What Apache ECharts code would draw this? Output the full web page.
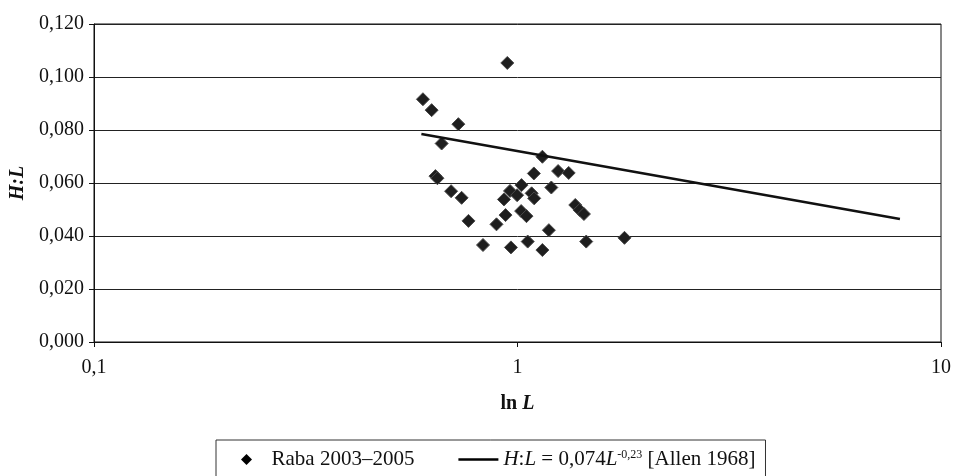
<!DOCTYPE html>
<html>
<head>
<meta charset="utf-8">
<script src="https://cdn.jsdelivr.net/npm/echarts@6/dist/echarts.min.js"></script>
<style>html,body{margin:0;padding:0;background:#fff;}#c{width:954px;height:476px;}</style>
</head>
<body>
<div id="c"></div>
<script>
// Raba 2003–2005 observations: L and H:L
var rabaL = [0.598,0.627,0.725,0.662,0.640,0.647,0.697,0.738,0.766,0.829,0.892,0.937,0.929,0.960,0.998,1.022,0.965,1.057,1.145,1.093,1.247,1.321,1.202,1.080,1.095,1.020,1.050,1.369,1.402,1.435,1.186,1.145,1.453,1.789,0.946];
var rabaHL = [0.0916,0.0875,0.0822,0.0749,0.0626,0.0618,0.0569,0.0544,0.0457,0.0366,0.0444,0.0479,0.0538,0.0570,0.0554,0.0592,0.0357,0.0379,0.0699,0.0636,0.0645,0.0638,0.0583,0.0561,0.0542,0.0494,0.0475,0.0517,0.0498,0.0483,0.0422,0.0347,0.0379,0.0393,0.1053];
// Allen 1968 relation, endpoints as drawn
var allenL = [0.593, 8.0];
var allenHL = [0.0785, 0.0464];
var xTicks = [0.1, 1, 10];
var yTicks = [0, 0.02, 0.04, 0.06, 0.08, 0.10, 0.12];

var serif = '"Liberation Serif", "DejaVu Serif", serif';
var rabaData = rabaL.map(function(l, i){ return [l, rabaHL[i]]; });
var allenData = allenL.map(function(l, i){ return [l, allenHL[i]]; });

var chart = echarts.init(document.getElementById('c'), null, {renderer: 'canvas'});
chart.setOption({
  animation: false,
  backgroundColor: '#fff',
  grid: {left: 94, right: 10, top: 24, bottom: 134, show: true, borderColor: '#111', borderWidth: 1},
  xAxis: {
    type: 'log', logBase: 10, min: xTicks[0], max: xTicks[xTicks.length-1],
    name: '{b|ln }{bi|L}', nameLocation: 'middle', nameGap: 52,
    nameTextStyle: {fontFamily: serif, fontSize: 20, fontWeight: 'bold', color: '#111',
      rich: {
        b: {fontFamily: serif, fontSize: 20, fontWeight: 'bold', color: '#111'},
        bi: {fontFamily: serif, fontSize: 20, fontWeight: 'bold', fontStyle: 'italic', color: '#111'}
      }},
    axisLine: {show: true, lineStyle: {color: '#111', width: 1}},
    axisTick: {show: true, length: 5, lineStyle: {color: '#111'}},
    minorTick: {show: false},
    splitLine: {show: false},
    axisLabel: {fontFamily: serif, fontSize: 20, color: '#111', margin: 16,
      formatter: function(v){ return String(+v.toPrecision(6)).replace('.', ','); }}
  },
  yAxis: {
    type: 'value', min: yTicks[0], max: yTicks[yTicks.length-1], interval: 0.02,
    name: 'H:L', nameLocation: 'middle', nameGap: 66, nameRotate: 90,
    nameTextStyle: {fontFamily: serif, fontSize: 20, fontWeight: 'bold', fontStyle: 'italic', color: '#111'},
    axisLine: {show: true, lineStyle: {color: '#111', width: 1}},
    axisTick: {show: true, length: 5, lineStyle: {color: '#111'}},
    splitLine: {show: true, lineStyle: {color: '#222', width: 1}},
    axisLabel: {fontFamily: serif, fontSize: 20, color: '#111', margin: 10,
      formatter: function(v){ return v.toFixed(3).replace('.', ','); }}
  },
  legend: {
    left: 216, top: 440,
    orient: 'horizontal',
    borderColor: '#333', borderWidth: 1,
    padding: [9, 10, 14, 25],
    itemWidth: 40, itemHeight: 11, itemGap: 44,
    symbolKeepAspect: true,
    textStyle: {fontFamily: serif, fontSize: 21, color: '#111',
      rich: {
        t: {fontFamily: serif, fontSize: 21, color: '#111'},
        i: {fontFamily: serif, fontSize: 21, fontStyle: 'italic', color: '#111'},
        sup: {fontFamily: serif, fontSize: 12, color: '#111', verticalAlign: 'top', padding: [0,0,9,0]}
      }},
    formatter: function(name){
      if (name === 'allen') return '{i|H}{t|:}{i|L}{t| = 0,074}{i|L}{sup|-0,23}{t| [Allen 1968]}';
      return name;
    },
    data: [
      {name: 'Raba 2003–2005', icon: 'path://M5,0 L10,5 L5,10 L0,5 Z', itemStyle: {color: '#000', borderWidth: 0}},
      {name: 'allen', icon: 'path://M0,0 L40,0 L40,2.6 L0,2.6 Z', itemStyle: {color: '#000'}}
    ]
  },
  series: [
    {
      name: 'Raba 2003–2005', type: 'scatter', data: rabaData,
      symbol: 'diamond', symbolSize: 13,
      itemStyle: {color: '#1e1e1e', borderColor: '#4a4a4a', borderWidth: 1, opacity: 1}
    },
    {
      name: 'allen', type: 'line', data: allenData,
      symbol: 'none', showSymbol: false,
      lineStyle: {color: '#111', width: 2.7},
      itemStyle: {color: '#111'}
    }
  ]
});
</script>
</body>
</html>
